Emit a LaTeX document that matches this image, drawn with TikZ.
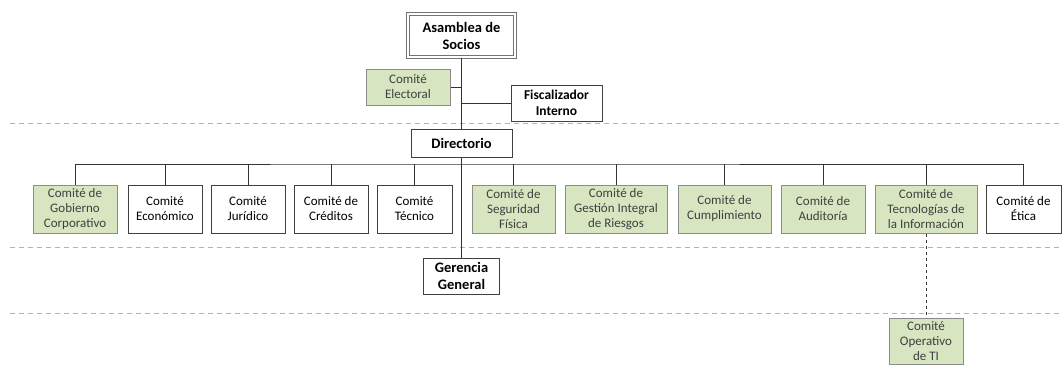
\documentclass[tikz,border=0pt]{standalone}
\usepackage{fontspec}
\setmainfont{Carlito}
\definecolor{comgreen}{RGB}{215,229,192}

\begin{document}
\begin{tikzpicture}[x=1pt, y=-1pt, line width=1pt,
    box/.style={draw=black!75, fill=white, text=black, align=center, inner sep=0pt, font=\fontsize{13}{15}\selectfont},
    green box/.style={box, fill=comgreen, draw=black!45, text=black!75},
    head/.style={box, font=\fontsize{14.5}{17}\selectfont\bfseries},
    level/.style={black!30, line width=0.8pt, dash pattern=on 5pt off 4pt}]
    \useasboundingbox (0,0) rectangle (1063,370);
    \draw[level] (10,123) -- (1063,123);
    \draw[level] (10,247) -- (1063,247);
    \draw[level] (10,313) -- (1063,313);
    \node[head, minimum width=107, minimum height=43, draw=black!55, double=white, double distance=1.2pt] (asamblea) at (461.5,35.5) {Asamblea de\\Socios};
    \node[green box, minimum width=84, minimum height=36] (electoral) at (408,87) {Comité\\Electoral};
    \node[head, font=\fontsize{13.5}{16.5}\selectfont\bfseries, minimum width=91, minimum height=36] (fiscalizador) at (556.5,103) {Fiscalizador\\Interno};
    \node[head, minimum width=101, minimum height=28] (directorio) at (461.5,143) {Directorio};
    \node[head, minimum width=76, minimum height=36] (gerencia) at (461.5,276) {Gerencia\\General};
    \node[green box, minimum width=84, minimum height=48] (gobierno) at (75,209) {Comité de\\Gobierno\\Corporativo};
    \node[box, minimum width=74, minimum height=48] (economico) at (165,209) {Comité\\Económico};
    \node[box, minimum width=74, minimum height=48] (juridico) at (248,209) {Comité\\Jurídico};
    \node[box, minimum width=74, minimum height=48] (creditos) at (331,209) {Comité de\\Créditos};
    \node[box, minimum width=75, minimum height=48] (tecnico) at (414.5,209) {Comité\\Técnico};
    \node[green box, minimum width=83, minimum height=48] (seguridad) at (513.5,209) {Comité de\\Seguridad\\Física};
    \node[green box, minimum width=102, minimum height=48] (riesgos) at (616,209) {Comité de\\Gestión Integral\\de Riesgos};
    \node[green box, minimum width=93, minimum height=48] (cumplimiento) at (724.5,209) {Comité de\\Cumplimiento};
    \node[green box, minimum width=84, minimum height=48] (auditoria) at (823,209) {Comité de\\Auditoría};
    \node[green box, minimum width=102, minimum height=48] (tecnologias) at (926,209) {Comité de\\Tecnologías de\\la Información};
    \node[box, minimum width=75, minimum height=48] (etica) at (1023.5,209) {Comité de\\Ética};
    \node[green box, minimum width=74, minimum height=46] (operativo) at (926,341) {Comité\\Operativo\\de TI};
    \coordinate (bus) at (461.5,164);
    \draw[black!80] (asamblea.south) -- (directorio.north);
    \draw[black!80] (directorio.south) -- (gerencia.north);
    \draw[black!80] (electoral.east) -- (electoral.east -| asamblea.south);
    \draw[black!80] (fiscalizador.west) -- (fiscalizador.west -| asamblea.south);
    \draw[black!80] (gobierno.north) |- (bus) -| (etica.north);
    \foreach \n in {economico,juridico,creditos,tecnico,seguridad,riesgos,cumplimiento,auditoria,tecnologias}
        \draw[black!80] (\n.north) -- (\n.north |- bus);
    \draw[black!80, dashed] (tecnologias.south) -- (operativo.north);
\end{tikzpicture}
\end{document}
